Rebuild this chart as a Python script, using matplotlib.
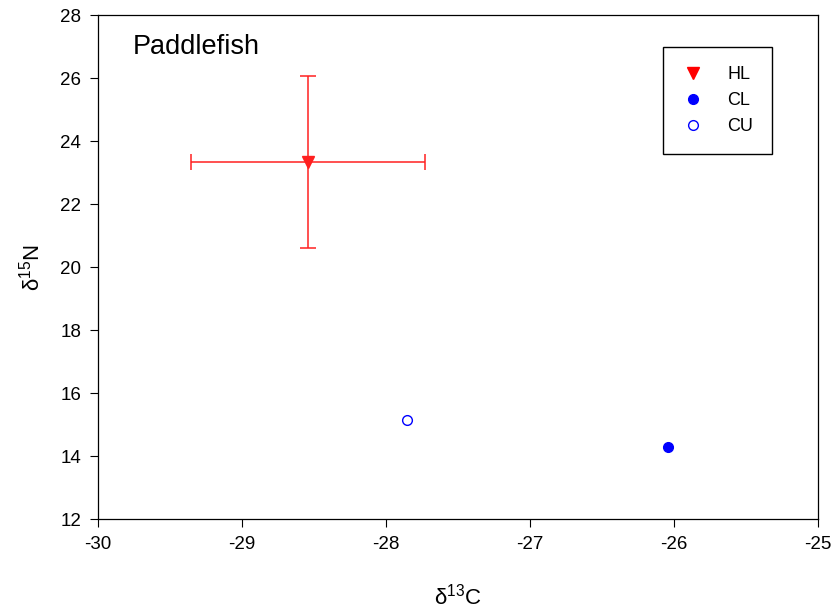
import matplotlib
matplotlib.use("Agg")
import matplotlib.pyplot as plt
from matplotlib.lines import Line2D

plt.rcParams["font.family"] = ["Liberation Sans", "DejaVu Sans"]
plt.rcParams["mathtext.fontset"] = "custom"
plt.rcParams["mathtext.rm"] = "Liberation Sans"
plt.rcParams["axes.unicode_minus"] = False
plt.rcParams["font.size"] = 12

# data
hl_x, hl_y = [-28.54], [23.35]
hl_xerr, hl_yerr = [0.815], [2.73]
cl_x, cl_y = [-26.04], [14.29]
cu_x, cu_y = [-27.85], [15.14]

xticks = [-30, -29, -28, -27, -26, -25]
yticks = [12, 14, 16, 18, 20, 22, 24, 26, 28]

fig = plt.figure(figsize=(8.35, 6.14), dpi=100)
ax = fig.add_axes([97.7 / 835, 1 - 519 / 614, 720.3 / 835, 503.7 / 614])

ax.errorbar(hl_x, hl_y, xerr=hl_xerr, yerr=hl_yerr, fmt="v", color="#ff2020",
            ms=8, elinewidth=1.1, capsize=6, capthick=1.1)
ax.plot(cl_x, cl_y, "o", color="blue", ms=7)
ax.plot(cu_x, cu_y, "o", mfc="white", mec="blue", mew=1, ms=7)

ax.set_xlim(-30, -25)
ax.set_ylim(12, 28)
ax.set_xticks(xticks)
ax.set_yticks(yticks)
ax.tick_params(direction="out", length=6, width=0.8, labelsize=13.5, pad=6)
for s in ax.spines.values():
    s.set_linewidth(0.9)

ax.set_xlabel("δ$^{13}$C", fontsize=16, labelpad=22)
ax.set_ylabel("δ$^{15}$N", fontsize=16, labelpad=11)

ax.text(0.049, 0.937, "Paddlefish", transform=ax.transAxes, fontsize=19.5,
        va="center", ha="left")

handles = [
    Line2D([], [], ls="none", marker="v", color="red", ms=8),
    Line2D([], [], ls="none", marker="o", color="blue", ms=7),
    Line2D([], [], ls="none", marker="o", mfc="white", mec="blue", mew=1, ms=7),
]
leg = ax.legend(handles, ["HL", "CL", "CU"], loc="upper right",
                bbox_to_anchor=(0.936, 0.9365), borderaxespad=0,
                fancybox=False, edgecolor="black", framealpha=1,
                fontsize=13, handletextpad=1.3, borderpad=1.05,
                labelspacing=0.5, handlelength=1.2)
leg.get_frame().set_linewidth(1)

fig.savefig("out.png", dpi=100)
